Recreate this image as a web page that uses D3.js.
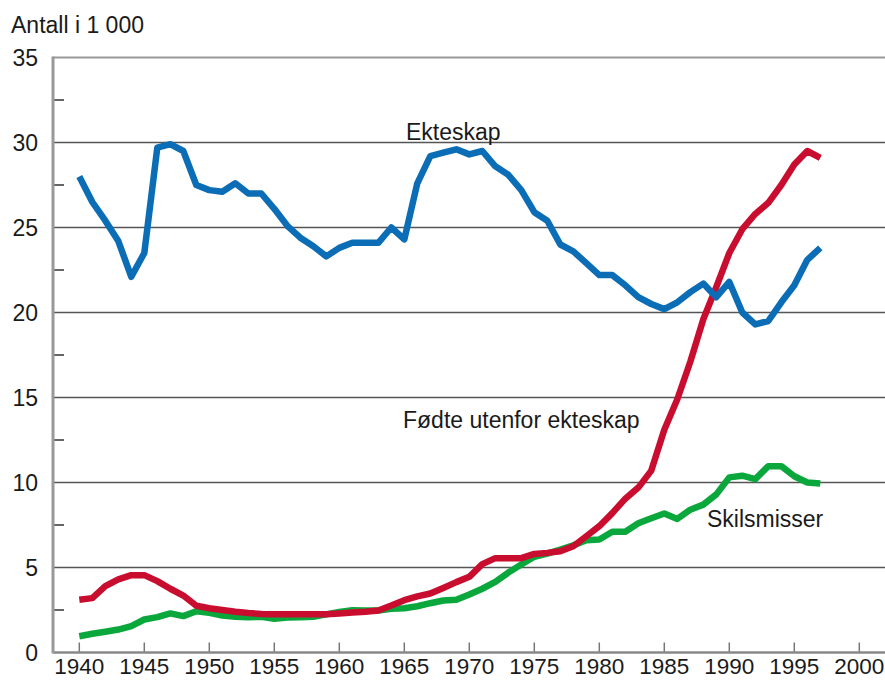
<!DOCTYPE html>
<html><head><meta charset="utf-8">
<script src="https://cdn.jsdelivr.net/npm/d3@7/dist/d3.min.js"></script>
<style>
body{margin:0;background:#fff;}
svg text{font-family:"Liberation Sans",Arial,Helvetica,sans-serif;fill:#1a1a1a;}
</style></head>
<body><svg id="c" width="885" height="680"></svg>
<script>
const years = d3.range(1940, 1998);
const ekteskap = [28.0,26.5,25.4,24.2,22.1,23.5,29.7,29.9,29.5,27.5,27.2,27.1,27.6,27.0,27.0,26.1,25.1,24.4,23.9,23.3,23.8,24.1,24.1,24.1,25.0,24.3,27.6,29.2,29.4,29.6,29.3,29.5,28.6,28.1,27.2,25.9,25.4,24.0,23.6,22.9,22.2,22.2,21.6,20.9,20.5,20.2,20.6,21.2,21.7,20.9,21.8,20.0,19.3,19.5,20.6,21.6,23.1,23.8];
const fodte = [3.1,3.2,3.9,4.3,4.55,4.55,4.2,3.75,3.35,2.75,2.6,2.5,2.4,2.32,2.27,2.25,2.25,2.25,2.25,2.25,2.3,2.35,2.4,2.47,2.76,3.08,3.3,3.47,3.8,4.14,4.45,5.2,5.55,5.55,5.55,5.8,5.86,5.96,6.25,6.84,7.43,8.2,9.05,9.7,10.7,13.1,14.9,17.1,19.6,21.5,23.5,24.9,25.8,26.45,27.5,28.7,29.5,29.1];
const skilsmisser = [0.96,1.1,1.22,1.35,1.55,1.94,2.08,2.3,2.14,2.43,2.33,2.18,2.1,2.08,2.1,1.98,2.06,2.08,2.1,2.24,2.39,2.49,2.47,2.47,2.57,2.6,2.72,2.9,3.06,3.1,3.41,3.75,4.15,4.7,5.18,5.63,5.82,6.06,6.3,6.6,6.65,7.1,7.1,7.6,7.9,8.18,7.86,8.4,8.7,9.3,10.3,10.4,10.2,10.96,10.96,10.37,10.0,9.94];
const xTicks = d3.range(1940, 2001, 5);
const yTicks = [0,5,10,15,20,25,30,35];
const yMinor = [2.5,7.5,12.5,17.5,22.5,27.5,32.5];

const svg = d3.select("#c");
const x = d3.scaleLinear().domain([1940, 2000]).range([79.3, 859.3]);
const y = d3.scaleLinear().domain([0, 35]).range([652.5, 57.5]);
const left = 53, right = 885;

svg.append("g").selectAll("line").data(yTicks.filter(v => v > 0)).join("line")
  .attr("x1", left).attr("x2", right)
  .attr("y1", d => y(d)).attr("y2", d => y(d))
  .attr("stroke", d => d === 35 ? "#999" : "#555")
  .attr("stroke-width", d => d === 35 ? 2 : 1.5);

svg.append("g").selectAll("line").data(yMinor).join("line")
  .attr("x1", left).attr("x2", left + 11)
  .attr("y1", d => y(d)).attr("y2", d => y(d))
  .attr("stroke", "#333").attr("stroke-width", 1.5);

svg.append("g").selectAll("line").data(xTicks).join("line")
  .attr("x1", d => x(d)).attr("x2", d => x(d))
  .attr("y1", y(0)).attr("y2", y(0) - 10)
  .attr("stroke", "#777").attr("stroke-width", 1.5);

svg.append("line").attr("x1", left).attr("x2", right).attr("y1", y(0)).attr("y2", y(0))
  .attr("stroke", "#888").attr("stroke-width", 2.5);
svg.append("line").attr("x1", left).attr("x2", left).attr("y1", y(35) - 1).attr("y2", y(0) + 1)
  .attr("stroke", "#999").attr("stroke-width", 3);

svg.append("g").selectAll("text").data(yTicks).join("text")
  .attr("x", 38).attr("y", d => y(d)).attr("dy", "0.36em")
  .attr("text-anchor", "end").attr("font-size", 23).text(d => d);

svg.append("g").selectAll("text").data(xTicks).join("text")
  .attr("x", d => x(d)).attr("y", 674)
  .attr("text-anchor", "middle").attr("font-size", 22.5).text(d => d);

svg.append("text").attr("x", 11).attr("y", 33).attr("font-size", 23).text("Antall i 1 000");

const line = d3.line().x((d, i) => x(years[i])).y(d => y(d));
const series = [
  {data: skilsmisser, color: "#0aa83c"},
  {data: fodte, color: "#c90d2f"},
  {data: ekteskap, color: "#0b6db5"}
];
svg.append("g").selectAll("path").data(series).join("path")
  .attr("d", d => line(d.data)).attr("fill", "none")
  .attr("stroke", d => d.color).attr("stroke-width", 6.5)
  .attr("stroke-linejoin", "round").attr("stroke-linecap", "butt");

svg.append("text").attr("x", 406).attr("y", 140).attr("font-size", 23).text("Ekteskap");
svg.append("text").attr("x", 403).attr("y", 428).attr("font-size", 23).text("Fødte utenfor ekteskap");
svg.append("text").attr("x", 707).attr("y", 527).attr("font-size", 23).text("Skilsmisser");
</script></body></html>
